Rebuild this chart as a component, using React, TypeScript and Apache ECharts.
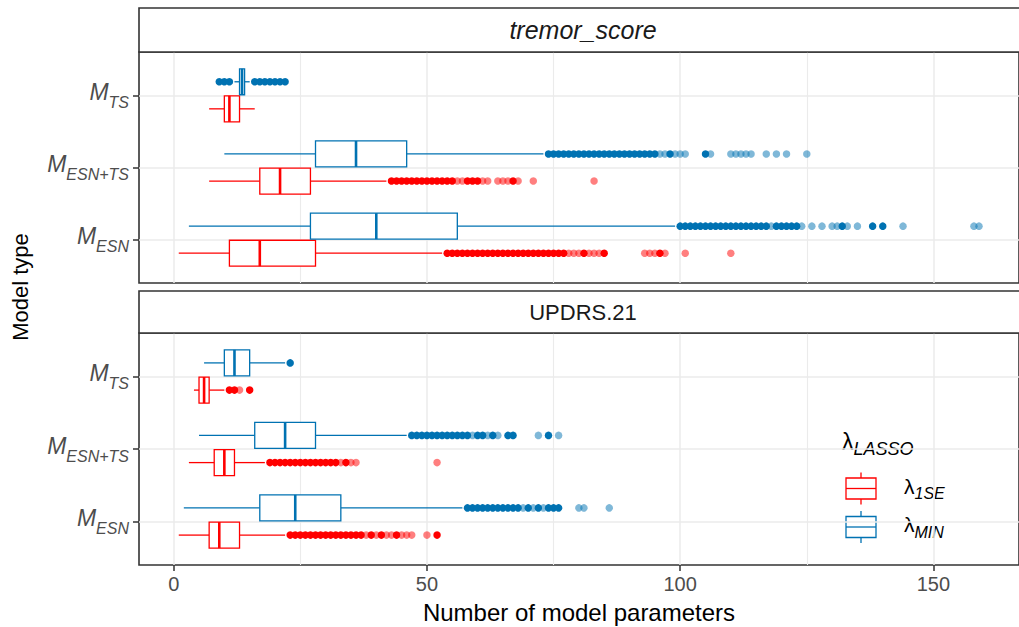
import React, { useEffect, useRef } from "react";
import * as echarts from "echarts";

// ---------- data ----------
const panels = ["tremor_score", "UPDRS.21"];
const modelSubs = ["ESN", "ESN+TS", "TS"]; // y = 1, 2, 3 (bottom to top)
const yTicks = [1, 2, 3];
const lambdaSubs = ["1SE", "MIN"];
const xTicks = [0, 50, 100, 150];
const xMinorTicks = [25, 75, 125];

// [lower whisker, Q1, median, Q3, upper whisker] per model (ESN, ESN+TS, TS)
const tremor1SE = [[1, 11, 17, 28, 53], [7, 17, 21, 27, 42], [7, 10, 11, 13, 16]];
const tremorMIN = [[3, 27, 40, 56, 99], [10, 28, 36, 46, 73], [12, 13, 13.5, 14, 15]];
const updrs1SE = [[1, 7, 9, 13, 22], [3, 8, 10, 12, 18], [4, 5, 6, 7, 10]];
const updrsMIN = [[2, 17, 24, 33, 57], [5, 16, 22, 28, 46], [6, 10, 12, 15, 22]];

// outliers: many overlapping points (dense) and single points (faint)
const tremor1SEDense = [
  [54, 55, 56, 57, 58, 59, 60, 61, 62, 63, 64, 65, 66, 67, 68, 69, 70, 71, 72, 73, 74, 75, 76, 77, 81, 85, 96],
  [43, 44, 45, 46, 47, 48, 49, 50, 51, 52, 53, 54, 55, 58, 59, 60, 67],
  [],
];
const tremor1SEFaint = [
  [78, 79, 80, 82, 83, 84, 93, 94, 95, 97, 101, 110],
  [56, 57, 61, 62, 64, 65, 66, 68, 71, 83],
  [],
];
const tremorMINDense = [
  [100, 101, 102, 103, 104, 105, 106, 107, 108, 109, 110, 111, 112, 113, 114, 115, 116, 117, 119, 120, 121, 122, 123, 132, 138, 140],
  [74, 75, 76, 77, 78, 79, 80, 81, 82, 83, 84, 85, 86, 87, 88, 89, 90, 91, 92, 93, 94, 95, 98, 105],
  [9, 10, 11, 16, 17, 18, 19, 20, 21, 22],
];
const tremorMINFaint = [
  [118, 124, 126, 128, 130, 131, 133, 135, 144, 158, 159],
  [96, 97, 99, 100, 101, 106, 110, 111, 112, 113, 114, 117, 119, 121, 125],
  [],
];
const updrs1SEDense = [
  [23, 24, 25, 26, 27, 28, 29, 30, 31, 32, 33, 34, 35, 36, 37, 39, 41, 44, 52],
  [19, 20, 21, 22, 23, 24, 25, 26, 27, 28, 29, 30, 31, 32, 34],
  [11, 12, 15],
];
const updrs1SEFaint = [
  [38, 40, 42, 43, 45, 46, 47, 50],
  [33, 35, 36, 52],
  [13],
];
const updrsMINDense = [
  [58, 59, 60, 61, 62, 63, 64, 65, 66, 67, 68, 70, 72, 74, 75, 76],
  [47, 48, 49, 50, 51, 52, 53, 54, 55, 56, 57, 58, 60, 61, 63, 66, 67, 74],
  [23],
];
const updrsMINFaint = [
  [69, 71, 73, 80, 81, 86],
  [59, 62, 64, 72, 76],
  [],
];

// ---------- styling ----------
const FONT = "'Liberation Sans', Arial, Helvetica, sans-serif";
const RED = "#FF0000";
const BLUE = "#0072B2";
const colors = [RED, BLUE];
const dodge = [-0.1875, 0.1875];
const BOX_H = 0.36;
const GRID_COLOR = "#EBEBEB";
const DARK = "#333333";
const X_MIN = -6.85;
const X_MAX = 166.9;

const stats = [[tremor1SE, tremorMIN], [updrs1SE, updrsMIN]];
const denseOut = [[tremor1SEDense, tremorMINDense], [updrs1SEDense, updrsMINDense]];
const faintOut = [[tremor1SEFaint, tremorMINFaint], [updrs1SEFaint, updrsMINFaint]];

const gridsPos = [
  { top: 52, height: 231 },
  { top: 333, height: 232 },
];
const strips = [
  { top: 8, height: 44 },
  { top: 291, height: 42 },
];

function makeBox(color: string, off: number) {
  return (params: any, api: any) => {
    const yc = api.value(0) + off;
    const pMin = api.coord([api.value(1), yc]);
    const pQ1 = api.coord([api.value(2), yc]);
    const pMed = api.coord([api.value(3), yc]);
    const pQ3 = api.coord([api.value(4), yc]);
    const pMax = api.coord([api.value(5), yc]);
    const h = Math.abs(api.size([0, BOX_H])[1]);
    const y = pMed[1];
    const ls = { stroke: color, lineWidth: 1.3, fill: null };
    return {
      type: "group",
      children: [
        { type: "line", shape: { x1: pMin[0], y1: y, x2: pQ1[0], y2: y }, style: ls },
        { type: "line", shape: { x1: pQ3[0], y1: y, x2: pMax[0], y2: y }, style: ls },
        {
          type: "rect",
          shape: { x: pQ1[0], y: y - h / 2, width: pQ3[0] - pQ1[0], height: h },
          style: { fill: "#fff", stroke: color, lineWidth: 1.3 },
        },
        {
          type: "line",
          shape: { x1: pMed[0], y1: y - h / 2, x2: pMed[0], y2: y + h / 2 },
          style: { stroke: color, lineWidth: 2.6 },
        },
      ],
    };
  };
}

function buildOption() {
  const grid = gridsPos.map((g) => ({
    left: 139,
    top: g.top,
    width: 888,
    height: g.height,
    show: true,
    backgroundColor: "#fff",
    borderColor: DARK,
    borderWidth: 1.6,
    containLabel: false,
  }));

  const xAxis: any[] = [];
  const yAxis: any[] = [];
  panels.forEach((_, p) => {
    const bottom = p === panels.length - 1;
    xAxis.push({
      type: "value",
      gridIndex: p,
      min: X_MIN,
      max: X_MAX,
      position: "bottom",
      axisLine: { show: false, onZero: false },
      axisTick: {
        show: bottom,
        customValues: xTicks,
        length: 6,
        lineStyle: { color: DARK, width: 1.5 },
      },
      axisLabel: {
        show: bottom,
        customValues: xTicks,
        margin: 9,
        color: "#4D4D4D",
        fontSize: 20,
        fontFamily: FONT,
      },
      splitLine: { show: true, lineStyle: { color: GRID_COLOR, width: 1.5 } },
      name: bottom ? "Number of model parameters" : "",
      nameLocation: "middle",
      nameGap: 35,
      nameTextStyle: { fontSize: 24, color: "#000", fontFamily: FONT },
    });
    xAxis.push({
      type: "value",
      gridIndex: p,
      min: X_MIN,
      max: X_MAX,
      position: "bottom",
      axisLine: { show: false, onZero: false },
      axisTick: { show: false, customValues: xMinorTicks },
      axisLabel: { show: false, customValues: xMinorTicks },
      splitLine: { show: true, lineStyle: { color: GRID_COLOR, width: 1.1 } },
    });
    yAxis.push({
      type: "value",
      gridIndex: p,
      min: 0.4,
      max: 3.6,
      position: "left",
      axisLine: { show: false, onZero: false },
      axisTick: {
        show: true,
        customValues: yTicks,
        length: 6,
        lineStyle: { color: DARK, width: 1.5 },
      },
      axisLabel: {
        show: true,
        customValues: yTicks,
        margin: 10,
        formatter: (v: number) => `{m|M}{s|${modelSubs[Math.round(v) - 1]}}`,
        rich: {
          m: {
            fontSize: 23,
            fontStyle: "italic",
            color: "#4D4D4D",
            fontFamily: FONT,
            lineHeight: 30,
            verticalAlign: "top",
          },
          s: {
            fontSize: 16,
            fontStyle: "italic",
            color: "#4D4D4D",
            fontFamily: FONT,
            lineHeight: 14,
            verticalAlign: "bottom",
          },
        },
      },
      splitLine: { show: true, lineStyle: { color: GRID_COLOR, width: 1.5 } },
    });
  });

  const series: any[] = [];
  panels.forEach((_, p) => {
    [0, 1].forEach((l) => {
      series.push({
        type: "custom",
        name: "λ" + lambdaSubs[l],
        xAxisIndex: p * 2,
        yAxisIndex: p,
        data: stats[p][l].map((s, i) => [yTicks[i], ...s]),
        encode: { x: [1, 2, 3, 4, 5], y: 0 },
        renderItem: makeBox(colors[l], dodge[l]),
        z: 3,
        silent: true,
      });
      series.push({
        type: "scatter",
        name: "λ" + lambdaSubs[l],
        xAxisIndex: p * 2,
        yAxisIndex: p,
        symbol: "circle",
        symbolSize: 7.5,
        data: denseOut[p][l].flatMap((vals, i) => vals.map((v) => [v, yTicks[i] + dodge[l]])),
        itemStyle: { color: colors[l], opacity: 1 },
        z: 4,
        silent: true,
      });
      series.push({
        type: "scatter",
        name: "λ" + lambdaSubs[l],
        xAxisIndex: p * 2,
        yAxisIndex: p,
        symbol: "circle",
        symbolSize: 7.5,
        data: faintOut[p][l].flatMap((vals, i) => vals.map((v) => [v, yTicks[i] + dodge[l]])),
        itemStyle: { color: colors[l], opacity: 0.5 },
        z: 4,
        silent: true,
      });
    });
  });

  const graphic: any[] = [];
  // facet strips
  panels.forEach((name, p) => {
    graphic.push({
      type: "rect",
      shape: { x: 139, y: strips[p].top, width: 900, height: strips[p].height },
      style: { fill: "#fff", stroke: DARK, lineWidth: 1.6 },
      z: 1,
    });
    graphic.push({
      type: "text",
      x: 583,
      y: strips[p].top + strips[p].height / 2,
      style: {
        text: name,
        fontSize: p === 0 ? 25 : 22,
        fontStyle: p === 0 ? "italic" : "normal",
        fontFamily: FONT,
        fill: "#1A1A1A",
        align: "center",
        verticalAlign: "middle",
      },
      z: 2,
    });
  });
  // y axis title
  graphic.push({
    type: "text",
    x: 20,
    y: 287,
    rotation: Math.PI / 2,
    style: {
      text: "Model type",
      fontSize: 22,
      fontFamily: FONT,
      fill: "#000",
      align: "center",
      verticalAlign: "middle",
    },
  });
  // legend
  const legendChildren: any[] = [
    { type: "rect", shape: { x: 830, y: 418, width: 132, height: 140 }, style: { fill: "#fff" } },
    {
      type: "text",
      x: 842,
      y: 444,
      style: {
        text: "{l|λ}{s|LASSO}",
        verticalAlign: "middle",
        rich: {
          l: { fontSize: 23, fontFamily: FONT, fill: "#000", lineHeight: 28, verticalAlign: "top" },
          s: { fontSize: 18, fontStyle: "italic", fontFamily: FONT, fill: "#000", lineHeight: 16, verticalAlign: "bottom" },
        },
      },
    },
  ];
  const keyY = [488.5, 527];
  [0, 1].forEach((l) => {
    const cy = keyY[l];
    const st = { stroke: colors[l], lineWidth: 1.3, fill: null };
    legendChildren.push(
      { type: "line", shape: { x1: 861, y1: cy - 16, x2: 861, y2: cy + 16 }, style: st },
      { type: "rect", shape: { x: 846, y: cy - 10.5, width: 30, height: 21 }, style: { fill: "#fff", stroke: colors[l], lineWidth: 1.3 } },
      { type: "line", shape: { x1: 846, y1: cy, x2: 876, y2: cy }, style: st },
      {
        type: "text",
        x: 904,
        y: cy,
        style: {
          text: `{l|λ}{s|${lambdaSubs[l]}}`,
          verticalAlign: "middle",
          rich: {
            l: { fontSize: 21, fontFamily: FONT, fill: "#000", lineHeight: 26, verticalAlign: "top" },
            s: { fontSize: 16, fontStyle: "italic", fontFamily: FONT, fill: "#000", lineHeight: 14, verticalAlign: "bottom" },
          },
        },
      }
    );
  });
  graphic.push({ type: "group", z: 10, children: legendChildren });

  return {
    animation: false,
    backgroundColor: "#fff",
    textStyle: { fontFamily: FONT },
    grid,
    xAxis,
    yAxis,
    series,
    graphic,
  };
}

export default function App() {
  const ref = useRef<HTMLDivElement>(null);
  useEffect(() => {
    document.body.style.margin = "0";
    if (!ref.current) return;
    const chart = echarts.init(ref.current, undefined, { renderer: "svg" });
    chart.setOption(buildOption() as any);
    return () => chart.dispose();
  }, []);
  return <div ref={ref} style={{ width: 1019, height: 627, overflow: "hidden" }} />;
}
